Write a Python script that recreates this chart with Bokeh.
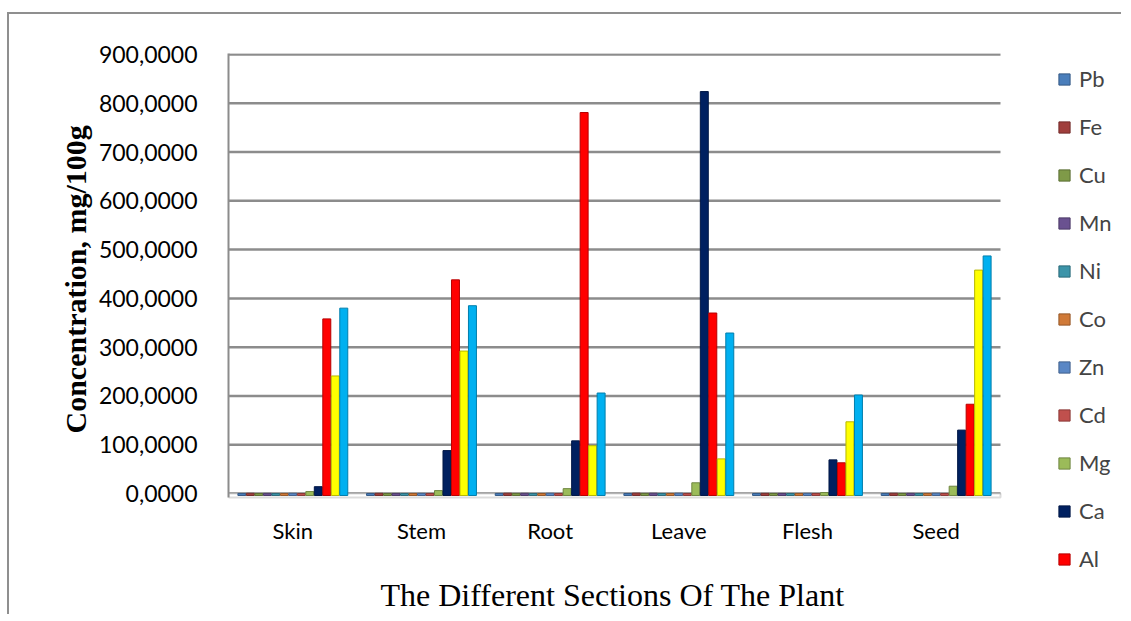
from bokeh.plotting import figure
from bokeh.models import (ColumnDataSource, Range1d, FixedTicker, Title,
                          CustomJSTickFormatter, Legend, LegendItem, BoxAnnotation)
from bokeh.core.properties import value
from bokeh.transform import dodge
from bokeh.embed import file_html
from bokeh.resources import INLINE

# ---- data ----
categories = ["Skin", "Stem", "Root", "Leave", "Flesh", "Seed"]
elements = ["Pb", "Fe", "Cu", "Mn", "Ni", "Co", "Zn", "Cd", "Mg", "Ca", "Al", "K", "Na"]
Pb = [0.2, 0.1, 0.2, 0.1, 0.1, 0.2]
Fe = [0.5, 0.4, 0.6, 0.8, 0.3, 0.5]
Cu = [0.1, 0.1, 0.2, 0.2, 0.1, 0.1]
Mn = [0.3, 0.2, 0.4, 0.6, 0.2, 0.3]
Ni = [0.1, 0.1, 0.1, 0.1, 0.1, 0.1]
Co = [0.1, 0.1, 0.1, 0.1, 0.1, 0.1]
Zn = [0.4, 0.3, 0.5, 0.6, 0.3, 0.6]
Cd = [0.1, 0.1, 0.1, 0.1, 0.1, 0.1]
Mg = [4, 6, 10, 22, 2, 15]
Ca = [14, 88, 108, 824, 69, 130]
Al = [358, 438, 781, 370, 63, 183]
K = [241, 292, 98, 71, 147, 458]
Na = [380, 385, 206, 329, 202, 487]
series = [Pb, Fe, Cu, Mn, Ni, Co, Zn, Cd, Mg, Ca, Al, K, Na]
legend_shown = ["Pb", "Fe", "Cu", "Mn", "Ni", "Co", "Zn", "Cd", "Mg", "Ca", "Al"]
y_ticks = [0, 100, 200, 300, 400, 500, 600, 700, 800, 900]
x_title = "The Different Sections Of The Plant"
y_title = "Concentration, mg/100g"

colors = ["#4A7EBB", "#A03E3C", "#7F9A48", "#6A5190", "#3C94A9", "#D07A38",
          "#5A87C5", "#C0504D", "#9BBB59", "#002060", "#FF0000", "#FFFF00", "#00B0F0"]


def darker(hex_color, f=0.72):
    h = hex_color.lstrip("#")
    r, g, b = (int(h[i:i + 2], 16) for i in (0, 2, 4))
    return "#%02x%02x%02x" % (int(r * f), int(g * f), int(b * f))


data = {"section": categories, "xi": list(range(len(categories)))}
for name, vals in zip(elements, series):
    data[name] = vals
source = ColumnDataSource(data)

GRAY = "#8c8c8c"
n_cat = len(categories)
x_lo, x_hi = -0.5, n_cat - 0.5          # extent of the category area
label_y = -76                            # category labels below the floor

p = figure(x_range=Range1d(x_lo, x_lo + 6.956),
           y_range=Range1d(-166, 902),
           width=1114, height=602,
           output_backend="svg", toolbar_location=None,
           min_border_left=219, min_border_right=0,
           min_border_top=39, min_border_bottom=42)
p.styles = {"border-top": "2px solid #8f8f8f", "border-left": "2px solid #8f8f8f",
            "margin-top": "12px", "margin-left": "7px"}
p.outline_line_color = None
p.background_fill_color = "white"
p.border_fill_color = "white"

# horizontal gridlines (only over the category area, like the chart's back wall)
p.segment(x0=x_lo, x1=x_hi, y0=y_ticks, y1=y_ticks, line_color=GRAY,
          line_width=2.5, level="underlay")
# floor of the 3D-style chart
p.add_layout(BoxAnnotation(left=x_lo, right=x_hi, bottom=-8, top=0,
                           fill_color="white", fill_alpha=1,
                           line_color=GRAY, line_width=2, level="underlay"))

bar_w = 0.062
step = 0.066
renderers = {}
for i, name in enumerate(elements):
    off = (i - (len(elements) - 1) / 2) * step
    r = p.vbar(x=dodge("xi", off), top=name, bottom=-4,
               width=bar_w, source=source, fill_color=colors[i],
               line_color=darker(colors[i]), line_width=1)
    renderers[name] = r

# category labels
p.text(x="xi", y=label_y, text="section", source=source,
       text_align="center", text_baseline="middle",
       text_font=value("Lato"), text_font_size="22px", text_color="black")

# y axis
p.yaxis.bounds = (-9, 902)
p.yaxis.ticker = FixedTicker(ticks=y_ticks)
p.yaxis.formatter = CustomJSTickFormatter(code="return tick.toFixed(4).replace('.', ',');")
p.yaxis.major_label_text_font = "Lato"
p.yaxis.major_label_text_font_size = "23px"
p.yaxis.major_label_text_color = "black"
p.yaxis.major_label_standoff = 31
p.yaxis.major_tick_out = 0
p.yaxis.major_tick_in = 0
p.yaxis.minor_tick_out = 0
p.yaxis.minor_tick_in = 0
p.yaxis.axis_line_color = GRAY
p.yaxis.axis_line_width = 2

# axis titles, placed along the category/value area rather than the whole frame
p.add_layout(Title(text=y_title, align="left", offset=141, standoff=8,
                   text_font="Liberation Serif", text_font_style="bold",
                   text_font_size="30px", text_color="black"), "left")
p.xaxis.visible = False
p.add_layout(Title(text=x_title, align="left", offset=152, standoff=0,
                   text_font="Liberation Serif", text_font_style="normal",
                   text_font_size="32px", text_color="black"), "below")

p.xgrid.visible = False
p.ygrid.visible = False

legend = Legend(items=[LegendItem(label=n, renderers=[renderers[n]]) for n in legend_shown],
                location=(829, 2), orientation="vertical",
                glyph_width=14, glyph_height=14, label_height=26, spacing=21,
                label_standoff=8, padding=0, margin=0,
                label_text_font="Lato", label_text_font_size="22px",
                border_line_color=None, background_fill_alpha=0)
p.add_layout(legend, "center")

open("out.html", "w").write(file_html(p, INLINE))
